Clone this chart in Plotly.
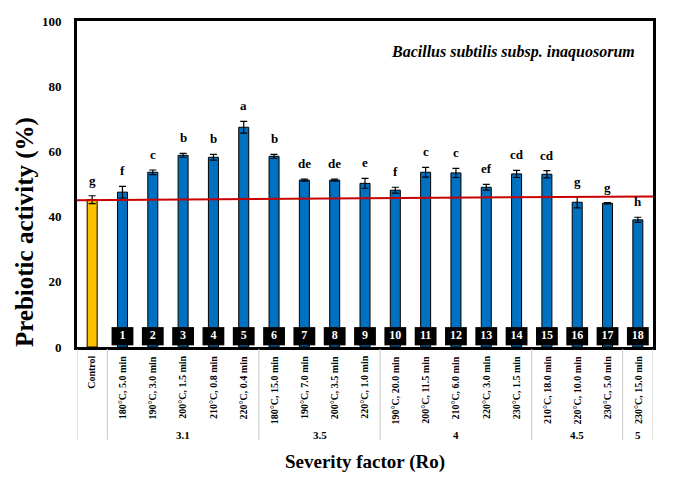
import plotly.graph_objects as go

categories = ["Control",
              "180°C, 5.0 min", "190°C, 3.0 min", "200°C, 1.5 min", "210°C, 0.8 min", "220°C, 0.4 min",
              "180°C, 15.0 min", "190°C, 7.0 min", "200°C, 3.5 min", "220°C, 1.0 min",
              "190°C, 20.0 min", "200°C, 11.5 min", "210°C, 6.0 min", "220°C, 3.0 min", "230°C, 1.5 min",
              "210°C, 18.0 min", "220°C, 10.0 min", "230°C, 5.0 min",
              "230°C, 15.0 min"]
activity = [45.2, 47.5, 53.6, 58.8, 58.2, 67.4, 58.5, 51.2, 51.2, 50.2,
            48.1, 53.6, 53.4, 49.0, 53.1, 53.0, 44.4, 44.1, 39.0]
errors = [1.2, 1.8, 0.7, 0.6, 0.9, 1.8, 0.6, 0.3, 0.3, 1.5,
          0.9, 1.5, 1.4, 0.9, 1.1, 1.1, 1.7, 0.2, 0.8]
letters = ["g", "f", "c", "b", "b", "a", "b", "de", "de", "e",
           "f", "c", "c", "ef", "cd", "cd", "g", "g", "h"]
box_numbers = [str(i) for i in range(1, 19)]
groups = ["3.1", "3.5", "4", "4.5", "5"]
group_sizes = [5, 4, 5, 3, 1]
ref_line = [45.0, 46.2]
y_ticks = [0, 20, 40, 60, 80, 100]

FONT = "Liberation Serif"
xpos = list(range(len(categories)))
colors = ["#FFC000"] + ["#0070C0"] * (len(categories) - 1)

fig = go.Figure()
fig.add_trace(go.Bar(
    x=xpos, y=activity, width=0.33,
    marker=dict(color=colors, line=dict(color="black", width=1)),
    error_y=dict(type="data", array=errors, color="black", thickness=1.2, width=3.5),
    showlegend=False))
# numbered boxes
fig.add_trace(go.Bar(
    x=xpos[1:], y=[5.6] * 18, base=0.5, width=0.72,
    marker=dict(color="black", line=dict(width=0)), showlegend=False))
fig.add_trace(go.Scatter(
    x=xpos[1:], y=[3.3] * 18, mode="text", text=box_numbers,
    textfont=dict(family=FONT, size=12, color="white", weight="bold"),
    showlegend=False))
# reference line
fig.add_trace(go.Scatter(
    x=[-0.5, len(categories) - 0.5], y=ref_line, mode="lines",
    line=dict(color="rgb(200,0,0)", width=2), showlegend=False))

ann = []
for i, (v, e, l) in enumerate(zip(activity, errors, letters)):
    ann.append(dict(x=i, y=v + e, xref="x", yref="y", text=l, showarrow=False,
                    yanchor="bottom", yshift=6,
                    font=dict(family=FONT, size=13, color="black", weight="bold")))
for i, c in enumerate(categories):
    ann.append(dict(x=i, y=-0.022, xref="x", yref="paper", text=c, textangle=-90,
                    showarrow=False, yanchor="top", xanchor="center",
                    font=dict(family=FONT, size=10, color="black", weight="bold")))
start = 1
bounds = [-0.5, 0.5]
for g, n in zip(groups, group_sizes):
    center = start + (n - 1) / 2
    ann.append(dict(x=center, y=-0.27, xref="x", yref="paper", text=g,
                    showarrow=False, yanchor="middle",
                    font=dict(family=FONT, size=11, color="black", weight="bold")))
    start += n
    bounds.append(start - 0.5)

shapes = []
for b in bounds:
    shapes.append(dict(type="line", xref="x", yref="paper", x0=b, x1=b, y0=-0.006, y1=-0.285,
                       line=dict(color="#c8c8c8", width=1)))

ann.append(dict(x=0.972, y=0.905, xref="paper", yref="paper",
                text="Bacillus subtilis subsp. inaquosorum", showarrow=False,
                xanchor="right", yanchor="middle",
                font=dict(family=FONT, size=16, color="black", weight="bold", style="italic")))
ann.append(dict(x=-0.09, y=0.353, xref="paper", yref="paper",
                text="Prebiotic activity (%)", showarrow=False, textangle=-90,
                xanchor="center", yanchor="middle",
                font=dict(family=FONT, size=25, color="black", weight="bold")))
ann.append(dict(x=0.5, y=-0.353, xref="paper", yref="paper",
                text="Severity factor (Ro)", showarrow=False,
                xanchor="center", yanchor="middle",
                font=dict(family=FONT, size=19, color="black", weight="bold")))

fig.update_layout(
    width=687, height=480,
    margin=dict(l=77, r=34, t=21, b=133),
    plot_bgcolor="white", paper_bgcolor="white",
    barmode="overlay",
    annotations=ann, shapes=shapes,
    xaxis=dict(range=[-0.5, len(categories) - 0.5], showticklabels=False, ticks="",
               showline=True, mirror=True, linewidth=3, linecolor="black",
               showgrid=False, zeroline=False),
    yaxis=dict(range=[0, 100], tickvals=y_ticks, ticks="", ticklabelstandoff=10,
               showline=True, mirror=True, linewidth=3, linecolor="black",
               showgrid=False, zeroline=False,
               tickfont=dict(family=FONT, size=13, color="black", weight="bold")),
)

fig.write_html("out.html")
